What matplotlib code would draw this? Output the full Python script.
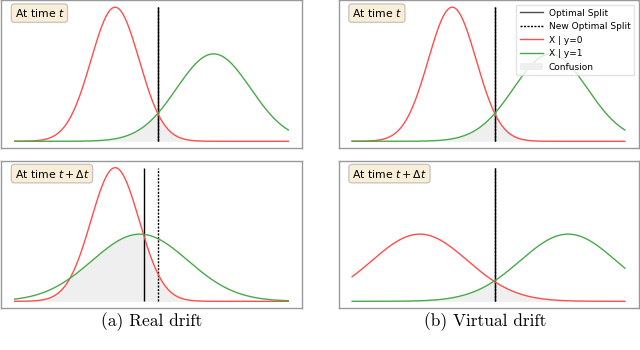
import numpy as np
import matplotlib.pyplot as plt
from matplotlib.patches import Patch
from matplotlib.lines import Line2D

# gaussian parameters (x in arbitrary units 0..10)
red_mean = [3.67, 3.67, 3.67, 2.48]   # X | y=0 : top-left, bottom-left, top-right, bottom-right
red_std = [0.88, 0.88, 0.88, 1.75]
green_mean = [7.27, 4.58, 7.27, 7.92]  # X | y=1
green_std = [1.35, 1.75, 1.35, 1.75]
split_old = [5.24, 5.24, 5.24, 5.22]   # dotted
split_new = [5.24, 4.73, 5.24, 5.22]   # solid
labels = ['At time $t$', 'At time $t + \\Delta t$', 'At time $t$', 'At time $t + \\Delta t$']
captions = ['(a) Real drift', '(b) Virtual drift']

x = np.linspace(0, 10, 500)


def pdf(x, m, s):
    return np.exp(-(x - m) ** 2 / (2 * s ** 2)) / (s * np.sqrt(2 * np.pi))


fig = plt.figure(figsize=(6.4, 3.5), dpi=100)
W, H = 640.0, 350.0
boxes = [(1, 0.5, 301, 147.5), (1, 161, 301, 147), (338.5, 0.5, 300, 147.5), (338.5, 161, 300, 147)]

red_c = '#ff4d4d'
green_c = '#4aa84a'

for i, (bx, by, bw, bh) in enumerate(boxes):
    ax = fig.add_axes([bx / W, 1 - (by + bh) / H, bw / W, bh / H])
    r = pdf(x, red_mean[i], red_std[i])
    g = pdf(x, green_mean[i], green_std[i])
    top = pdf(red_mean[0], red_mean[0], red_std[0])
    ax.fill_between(x, 0, np.minimum(r, g), color='#efefef', lw=0)
    ax.vlines(split_new[i], 0, top, color='black', lw=1)
    ax.vlines(split_old[i], 0, top, color='black', lw=1, linestyles=(0, (1.5, 1)))
    ax.plot(x, r, color=red_c, lw=1)
    ax.plot(x, g, color=green_c, lw=1)
    ax.set_ylim(-0.05 * top, top * 1.05)
    ax.set_xlim(-0.5, 10.5)
    ax.set_xticks([])
    ax.set_yticks([])
    for sp in ax.spines.values():
        sp.set_color('#999999')
        sp.set_linewidth(1)
    ax.text(0.045, 0.955, labels[i], transform=ax.transAxes, fontsize=7.8,
            va='top', ha='left',
            bbox=dict(boxstyle='round,pad=0.3', facecolor='wheat', alpha=0.5, edgecolor='#999999'))
    if i == 2:
        handles = [Line2D([], [], color='black', lw=1, alpha=0.7),
                   Line2D([], [], color='black', lw=1, ls=(0, (1.5, 1))),
                   Line2D([], [], color=red_c, lw=1),
                   Line2D([], [], color=green_c, lw=1),
                   Patch(facecolor='#efefef')]
        ax.legend(handles, ['Optimal Split', 'New Optimal Split', 'X | y=0', 'X | y=1', 'Confusion'],
                  loc='upper right', fontsize=6.5, framealpha=0.8, borderaxespad=0.5,
                  handlelength=2.6, handletextpad=0.6, labelspacing=0.5,
                  fancybox=False, edgecolor='#dddddd')

for cx, cap in zip([151.5, 485], captions):
    fig.text(cx / W, 1 - 322 / H, cap, fontsize=12.5, family='cmr10',
             ha='center', va='center')

fig.savefig('out.png', dpi=100)
